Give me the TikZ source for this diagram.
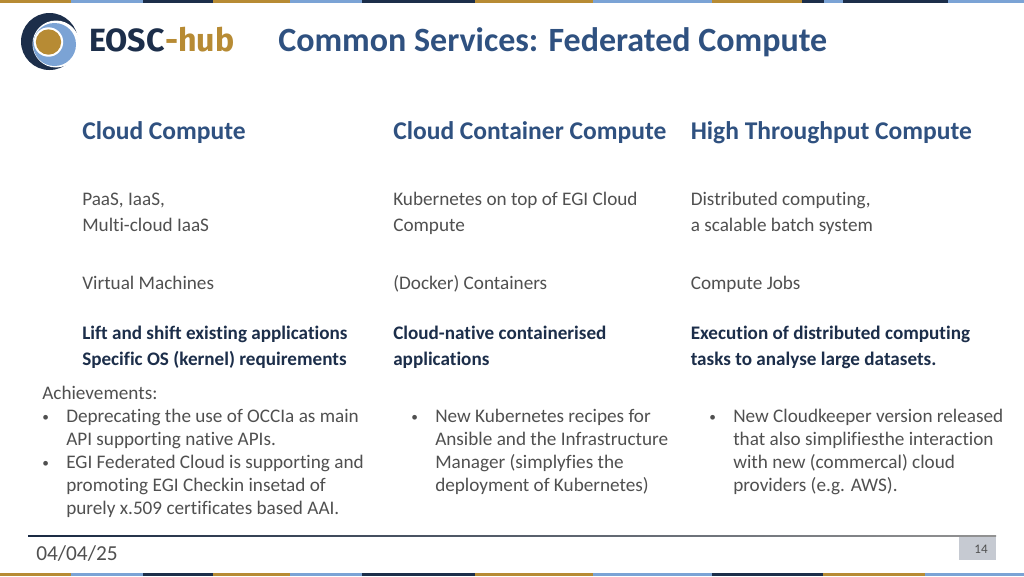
\documentclass[tikz,border=0pt]{standalone}
\usepackage{fontspec}
\setmainfont[RawFeature={-liga}]{Carlito}
\newfontfamily\logofont{Fira Sans}
\definecolor{gold}{HTML}{B78B34}
\definecolor{sky}{HTML}{7BA3D5}
\definecolor{navy}{HTML}{1C2E4A}
\definecolor{titleblue}{HTML}{2F5180}
\definecolor{bodygrey}{HTML}{505050}
\definecolor{pagebox}{HTML}{C6CAD2}
\tikzset{
 x=0.75pt,y=-0.75pt,
 heading/.style={anchor=base west,inner sep=0pt,text=titleblue,font=\fontsize{19.15}{22}\selectfont\bfseries},
 body/.style={anchor=base west,inner sep=0pt,text=bodygrey,font=\fontsize{14.4}{16}\selectfont},
 strong/.style={anchor=base west,inner sep=0pt,text=navy,font=\fontsize{14.36}{16}\selectfont\bfseries},
 list/.style={anchor=base west,inner sep=0pt,text=bodygrey,font=\fontsize{14.4}{16}\selectfont},
 bullet/.style={anchor=base west,inner sep=0pt,text=bodygrey,font=\fontsize{10}{16}\selectfont},
}
\begin{document}
\begin{tikzpicture}
\useasboundingbox (0,0) rectangle (1024,576);
\fill[white] (0,0) rectangle (1024,576);
% top band
\foreach \a/\b/\c in {0/71/gold,71/143/sky,143/213/navy,213/290/gold,290/362/sky,362/475/navy,475/593/gold,593/712/sky,712/802/gold,802/824/navy,824/843/sky,843/948/navy,948/1024/sky}{\fill[\c] (\a,0) rectangle (\b,3.2);}
% bottom band
\foreach \a/\b/\c in {0/71/gold,71/143/sky,143/213/navy,213/290/gold,290/362/sky,362/475/navy,475/593/gold,593/712/sky,712/823/navy,823/925/gold,925/1024/sky}{\fill[\c] (\a,573) rectangle (\b,576);}
% logo
\fill[navy] (49.5,41.5) circle (28.5);
\fill[white] (56,44) circle (23.5);
\fill[sky] (54.5,44.5) circle (21.5);
\fill[white] (48.5,42) circle (14.7);
\fill[gold] (48.5,42) circle (12.7);
\node[anchor=base west,inner sep=0pt,text=navy,font=\logofont\fontsize{24.1}{26}\selectfont\bfseries] (logoa) at (89,51.5) {EOSC};
\node[anchor=base west,inner sep=0pt,text=gold,font=\logofont\fontsize{24.1}{26}\selectfont\bfseries] (logob) at (logoa.base east) {-hub};
% title
\node[heading,font=\fontsize{25.5}{28}\selectfont\bfseries] (title) at (278,51.7) {Common Services: Federated Compute};
% column 1
\node[heading] (h1) at (82,139.3) {Cloud Compute};
\node[body] (a1) at (82,205.5) {PaaS, IaaS,};
\node[body] (a2) at (82,231.5) {Multi-cloud IaaS};
\node[body] (a3) at (82,289.5) {Virtual Machines};
\node[strong] (a4) at (82,339.3) {Lift and shift existing applications};
\node[strong] (a5) at (82,365.3) {Specific OS (kernel) requirements};
\node[list] (l0) at (42,399.3) {Achievements:};
\node[bullet] (b1) at (42,421) {•};
\node[list] (l1) at (66,422.3) {Deprecating the use of OCCIa as main};
\node[list] (l2) at (66,445.3) {API supporting native APIs.};
\node[bullet] (b2) at (42,467) {•};
\node[list] (l3) at (66,468.3) {EGI Federated Cloud is supporting and};
\node[list] (l4) at (66,491.3) {promoting EGI Checkin insetad of};
\node[list] (l5) at (66,514.3) {purely x.509 certificates based AAI.};
% column 2
\node[heading] (h2) at (393,139.3) {Cloud Container Compute};
\node[body] (c1) at (393,205.5) {Kubernetes on top of EGI Cloud};
\node[body] (c2) at (393,231.5) {Compute};
\node[body] (c3) at (393,289.5) {(Docker) Containers};
\node[strong] (c4) at (393,339.3) {Cloud-native containerised};
\node[strong] (c5) at (393,365.3) {applications};
\node[bullet] (b3) at (411,421) {•};
\node[list] (m1) at (435,422.3) {New Kubernetes recipes for};
\node[list] (m2) at (435,445.3) {Ansible and the Infrastructure};
\node[list] (m3) at (435,468.3) {Manager (simplyfies the};
\node[list] (m4) at (435,491.3) {deployment of Kubernetes)};
% column 3
\node[heading] (h3) at (690.5,139.3) {High Throughput Compute};
\node[body] (d1) at (690.5,205.5) {Distributed computing,};
\node[body] (d2) at (690.5,231.5) {a scalable batch system};
\node[body] (d3) at (690.5,289.5) {Compute Jobs};
\node[strong] (d4) at (690.5,339.3) {Execution of distributed computing};
\node[strong] (d5) at (690.5,365.3) {tasks to analyse large datasets.};
\node[bullet] (b4) at (709,421) {•};
\node[list] (n1) at (733,422.3) {New Cloudkeeper version released};
\node[list] (n2) at (733,445.3) {that also simplifiesthe interaction};
\node[list] (n3) at (733,468.3) {with new (commercal) cloud};
\node[list] (n4) at (733,491.3) {providers (e.g. AWS).};
% footer
\fill[pagebox] (959,535) rectangle (996,559.5);
\fill[left color=navy!90!black,right color=gray!85] (28,535) rectangle (996,536);
\node[anchor=base west,inner sep=0pt,text=bodygrey,font=\fontsize{16}{18}\selectfont] (date) at (36,560) {04/04/25};
\node[anchor=base,inner sep=0pt,text=bodygrey,font=\fontsize{9.8}{11}\selectfont] (page) at (981,553) {14};
\end{tikzpicture}
\end{document}
